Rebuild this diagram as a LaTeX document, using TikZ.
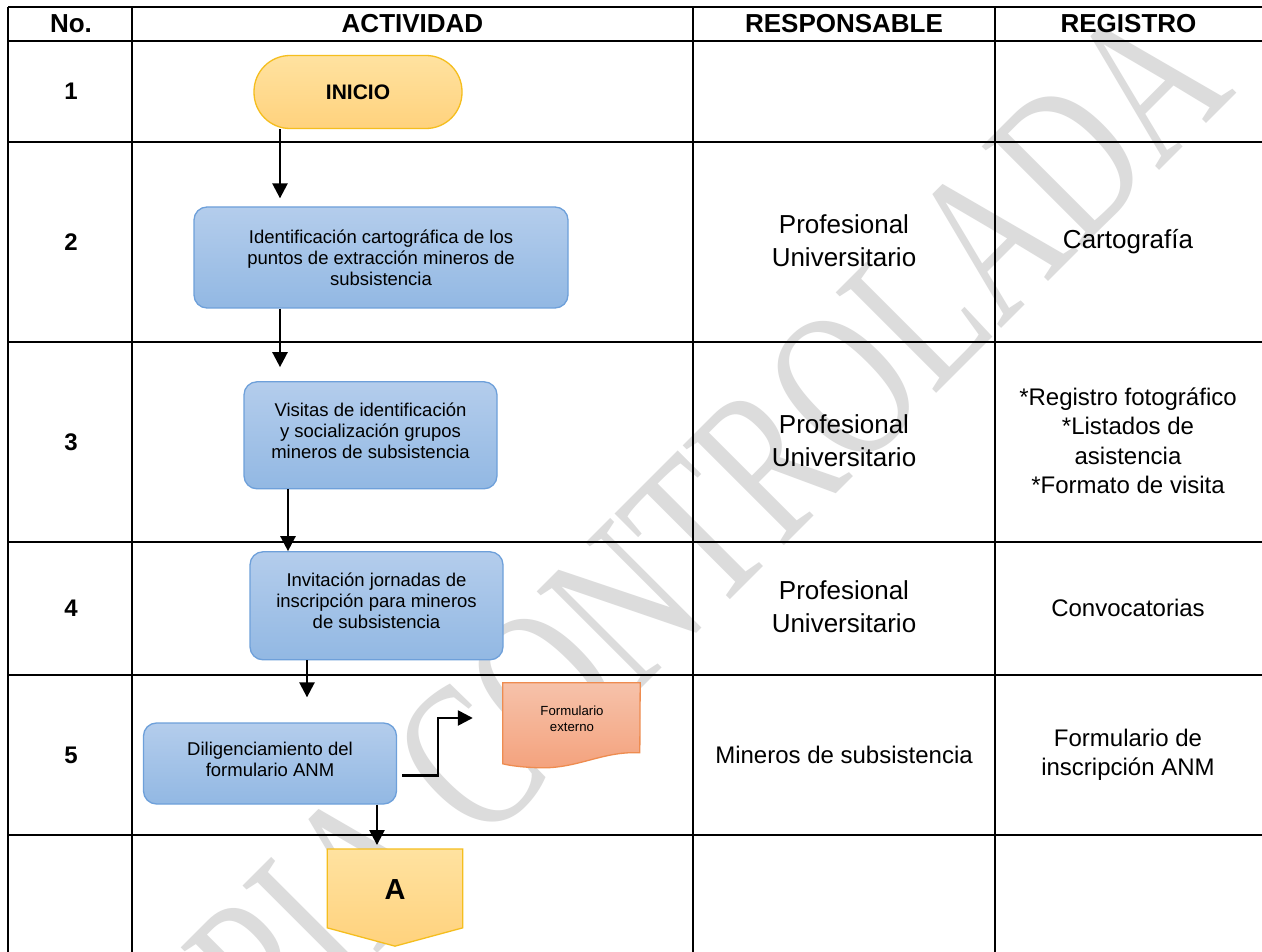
\documentclass[tikz,border=0pt]{standalone}
\usepackage{fontspec}
\setmainfont{Liberation Sans}
\newfontfamily\wmfont{Liberation Serif}
\usetikzlibrary{arrows.meta,calc}
\definecolor{bluetop}{RGB}{180,205,236}
\definecolor{bluebot}{RGB}{146,184,227}
\definecolor{blueline}{RGB}{110,160,218}
\definecolor{yeltop}{RGB}{255,226,160}
\definecolor{yelbot}{RGB}{255,210,125}
\definecolor{yelline}{RGB}{245,190,30}
\definecolor{saltop}{RGB}{246,194,170}
\definecolor{salbot}{RGB}{244,162,125}
\definecolor{salline}{RGB}{238,140,80}
\definecolor{wmgray}{RGB}{220,220,220}
\begin{document}
\begin{tikzpicture}[x=1pt,y=-1pt,
  grid/.style={line width=2.5pt,black},
  arr/.style={line width=2.5pt,-{Triangle[length=15pt,width=15pt]}},
  proc/.style={shade,top color=bluetop,bottom color=bluebot,draw=blueline,line width=1.3pt,rounded corners=13pt},
  ghost/.style={inner sep=0pt},
  boxtxt/.style={align=center,font=\fontsize{18.5}{21}\selectfont},
  hdr/.style={font=\bfseries\fontsize{26}{30}\selectfont},
  num/.style={font=\bfseries\fontsize{24}{28}\selectfont},
  resp/.style={align=center,font=\fontsize{26}{33}\selectfont},
  reg/.style={align=center,font=\fontsize{24}{29.5}\selectfont}]
\useasboundingbox (0,0) rectangle (1262,952);
\clip (0,0) rectangle (1262,952);
\fill[white] (0,0) rectangle (1262,952);
% watermark
\node[rotate=45,yscale=1.4,text=wmgray,font=\wmfont\fontsize{155}{155}\selectfont,inner sep=0pt] (wm) at (632,598) {COPIA CONTROLADA};
% table grid
\foreach \yy in {7,41,142,342,542,675,835} \draw[grid] (8,\yy) -- (1262,\yy);
\foreach \xx in {8,132,693,995} \draw[grid] (\xx,7) -- (\xx,952);
% headers
\node[hdr] (h1) at (71,24) {No.};
\node[hdr] (h2) at (412.5,24) {ACTIVIDAD};
\node[hdr] (h3) at (844,24) {RESPONSABLE};
\node[hdr] (h4) at (1128.5,24) {REGISTRO};
% numbers
\node[num] (n1) at (71,91.5) {1};
\node[num] (n2) at (71,242) {2};
\node[num] (n3) at (71,442) {3};
\node[num] (n4) at (71,608.5) {4};
\node[num] (n5) at (71,755) {5};
% responsable
\node[resp] (r2) at (844,241) {Profesional\\Universitario};
\node[resp] (r3) at (844,441) {Profesional\\Universitario};
\node[resp] (r4) at (844,607) {Profesional\\Universitario};
\node[reg] (r5) at (844,755) {Mineros de subsistencia};
% registro
\node[resp] (g2) at (1128,242) {Cartografía};
\node[reg] (g3) at (1128,441) {*Registro fotográfico\\*Listados de\\asistencia\\*Formato de visita};
\node[reg] (g4) at (1128,608) {Convocatorias};
\node[reg] (g5) at (1128,755) {Formulario de\\inscripción ANM};
% flow shapes
\node[shade,top color=yeltop,bottom color=yelbot,draw=yelline,line width=1.3pt,rounded corners=36pt,
      minimum width=208pt,minimum height=73pt,font=\bfseries\fontsize{21}{24}\selectfont] (inicio) at (358,92) {INICIO};
\node[proc,minimum width=374pt,minimum height=101pt,boxtxt] (b2) at (381,257.5)
  {Identificación cartográfica de los\\puntos de extracción mineros de\\subsistencia};
\node[proc,minimum width=253pt,minimum height=107pt] (b3) at (370.5,435.3) {};
\node[boxtxt] (b3t) at ($(b3.center)+(0,-5)$) {Visitas de identificación\\y socialización grupos\\mineros de subsistencia};
\node[proc,minimum width=253pt,minimum height=108pt] (b4) at (376.5,605.8) {};
\node[boxtxt] (b4t) at ($(b4.center)+(0,-5)$) {Invitación jornadas de\\inscripción para mineros\\de subsistencia};
\node[proc,minimum width=253pt,minimum height=81pt] (b5) at (270,763.5) {};
\node[boxtxt] (b5t) at ($(b5.center)+(0,-4)$) {Diligenciamiento del\\formulario ANM};
% document shape
\node[ghost,minimum width=137pt,minimum height=85pt] (doc) at (571.5,725.5) {};
\shade[top color=saltop,bottom color=salbot,draw=salline,line width=1.3pt]
  (doc.north west) -- (doc.north east) -- ($(doc.north west)+(137,70)$)
  .. controls ($(doc.north west)+(100,68)$) and ($(doc.north west)+(75,86)$) .. ($(doc.north west)+(37,85)$)
  .. controls ($(doc.north west)+(20,84.5)$) and ($(doc.north west)+(8,83)$) .. ($(doc.north west)+(0,81)$) -- cycle;
\node[align=center,font=\fontsize{13.2}{16}\selectfont] (doct) at (572,718.7) {Formulario\\externo};
% off-page connector
\node[ghost,minimum width=135pt,minimum height=96.7pt] (offA) at (395,897.6) {};
\shade[top color=yeltop,bottom color=yelbot,draw=yelline,line width=1.3pt]
  (offA.north west) -- (offA.north east) -- ($(offA.south east)+(0,-18.3)$) -- (offA.south)
  -- ($(offA.south west)+(0,-18.3)$) -- cycle;
\node[font=\bfseries\fontsize{29}{32}\selectfont] (atxt) at (395,890) {A};
% connectors
\coordinate (x1) at (280,0);
\coordinate (x3) at (288,0);
\coordinate (x4) at (307,0);
\coordinate (x5) at (377,0);
\coordinate (k) at (438,718);
\draw[arr,shorten >=8pt] (inicio.south -| x1) -- (b2.north -| x1);
\draw[arr,shorten >=14pt] (b2.south -| x1) -- (b3.north -| x1);
\draw[arr] (b3.south -| x3) -- (b4.north -| x3);
\draw[arr,shorten >=25pt] (b4.south -| x4) -- (b5.north -| x4);
\draw[arr,shorten >=4pt] (b5.south -| x5) -- (offA.north -| x5);
\draw[arr,shorten >=30pt] ([xshift=5pt,yshift=-12pt]b5.east) -| (k) -- (k -| doc.west);
\end{tikzpicture}
\end{document}
